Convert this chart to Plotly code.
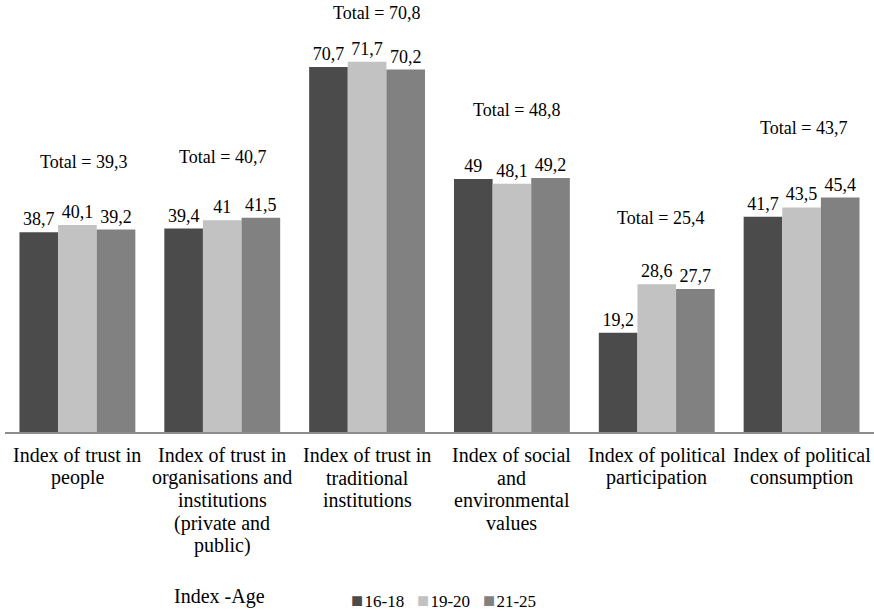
import plotly.graph_objects as go

# Indices by age group
categories = [
    "Index of trust in<br>people",
    "Index of trust in<br>organisations and<br>institutions<br>(private and<br>public)",
    "Index of trust in<br>traditional<br>institutions",
    "Index of social<br>and<br>environmental<br>values",
    "Index of political<br>participation",
    "Index of political<br>consumption",
]
age_groups = ["16-18", "19-20", "21-25"]
values_16_18 = [38.7, 39.4, 70.7, 49.0, 19.2, 41.7]
values_19_20 = [40.1, 41.0, 71.7, 48.1, 28.6, 43.5]
values_21_25 = [39.2, 41.5, 70.2, 49.2, 27.7, 45.4]
totals = [39.3, 40.7, 70.8, 48.8, 25.4, 43.7]

series = [values_16_18, values_19_20, values_21_25]
colors = ["#4b4b4b", "#c1c2c1", "#818181"]

FONT = "Liberation Serif"
TEXT = "black"


def fmt(v):
    return f"{v:g}".replace(".", ",")


xs = list(range(len(categories)))

fig = go.Figure()
for name, vals, col in zip(age_groups, series, colors):
    fig.add_trace(go.Bar(
        x=xs, y=vals, name=name,
        marker=dict(color=col, line=dict(width=0)),
        text=[fmt(v) for v in vals],
        textposition="outside",
        textfont=dict(family=FONT, size=18, color=TEXT),
        cliponaxis=False,
        showlegend=False,
    ))

annotations = []

# "Total = ..." labels above each group (vertical position in axis units, small x nudge)
total_y = [52.3, 53.3, 81.1, 62.4, 41.4, 58.9]
total_dx = [6, 0, 9, 5, 4, 2]
for i, t in enumerate(totals):
    annotations.append(dict(
        x=i, y=total_y[i], xref="x", yref="y", xshift=total_dx[i],
        text=f"Total = {fmt(t)}", showarrow=False,
        font=dict(family=FONT, size=18, color=TEXT),
        xanchor="center", yanchor="middle",
    ))

# Category labels, one line each for tight line spacing
for i, lab in enumerate(categories):
    for j, line in enumerate(lab.split("<br>")):
        annotations.append(dict(
            x=i, y=0, xref="x", yref="y",
            yshift=-(23 + j * 22.7),
            text=line, showarrow=False,
            font=dict(family=FONT, size=20, color=TEXT),
            xanchor="center", yanchor="middle",
        ))

# Axis caption
annotations.append(dict(
    x=1, y=0, xref="x", yref="y", xshift=-3, yshift=-164,
    text="Index -Age", showarrow=False,
    font=dict(family=FONT, size=20, color=TEXT),
    xanchor="center", yanchor="middle",
))

# Legend row
legend_parts = []
for name, col in zip(age_groups, colors):
    legend_parts.append(
        f'<span style="color:{col};font-size:20px">■</span>\u200a{name}'
    )
annotations.append(dict(
    x=0.5046, y=0, xref="paper", yref="paper", yshift=-168,
    text="&nbsp;&nbsp;&nbsp;".join(legend_parts), showarrow=False,
    font=dict(family=FONT, size=17, color=TEXT),
    xanchor="center", yanchor="middle",
))

fig.update_layout(
    width=874, height=612,
    margin=dict(l=5, r=0, t=0, b=180),
    paper_bgcolor="white", plot_bgcolor="white",
    barmode="group", bargap=0.2, bargroupgap=0,
    annotations=annotations,
    xaxis=dict(
        range=[-0.5, len(categories) - 0.5],
        showticklabels=False, ticks="", showgrid=False, zeroline=False,
        showline=True, linecolor="#8c8c8c", linewidth=1.5,
    ),
    yaxis=dict(
        range=[0, 83.67], visible=False, showgrid=False, zeroline=False,
    ),
)

fig.write_html("out.html")
